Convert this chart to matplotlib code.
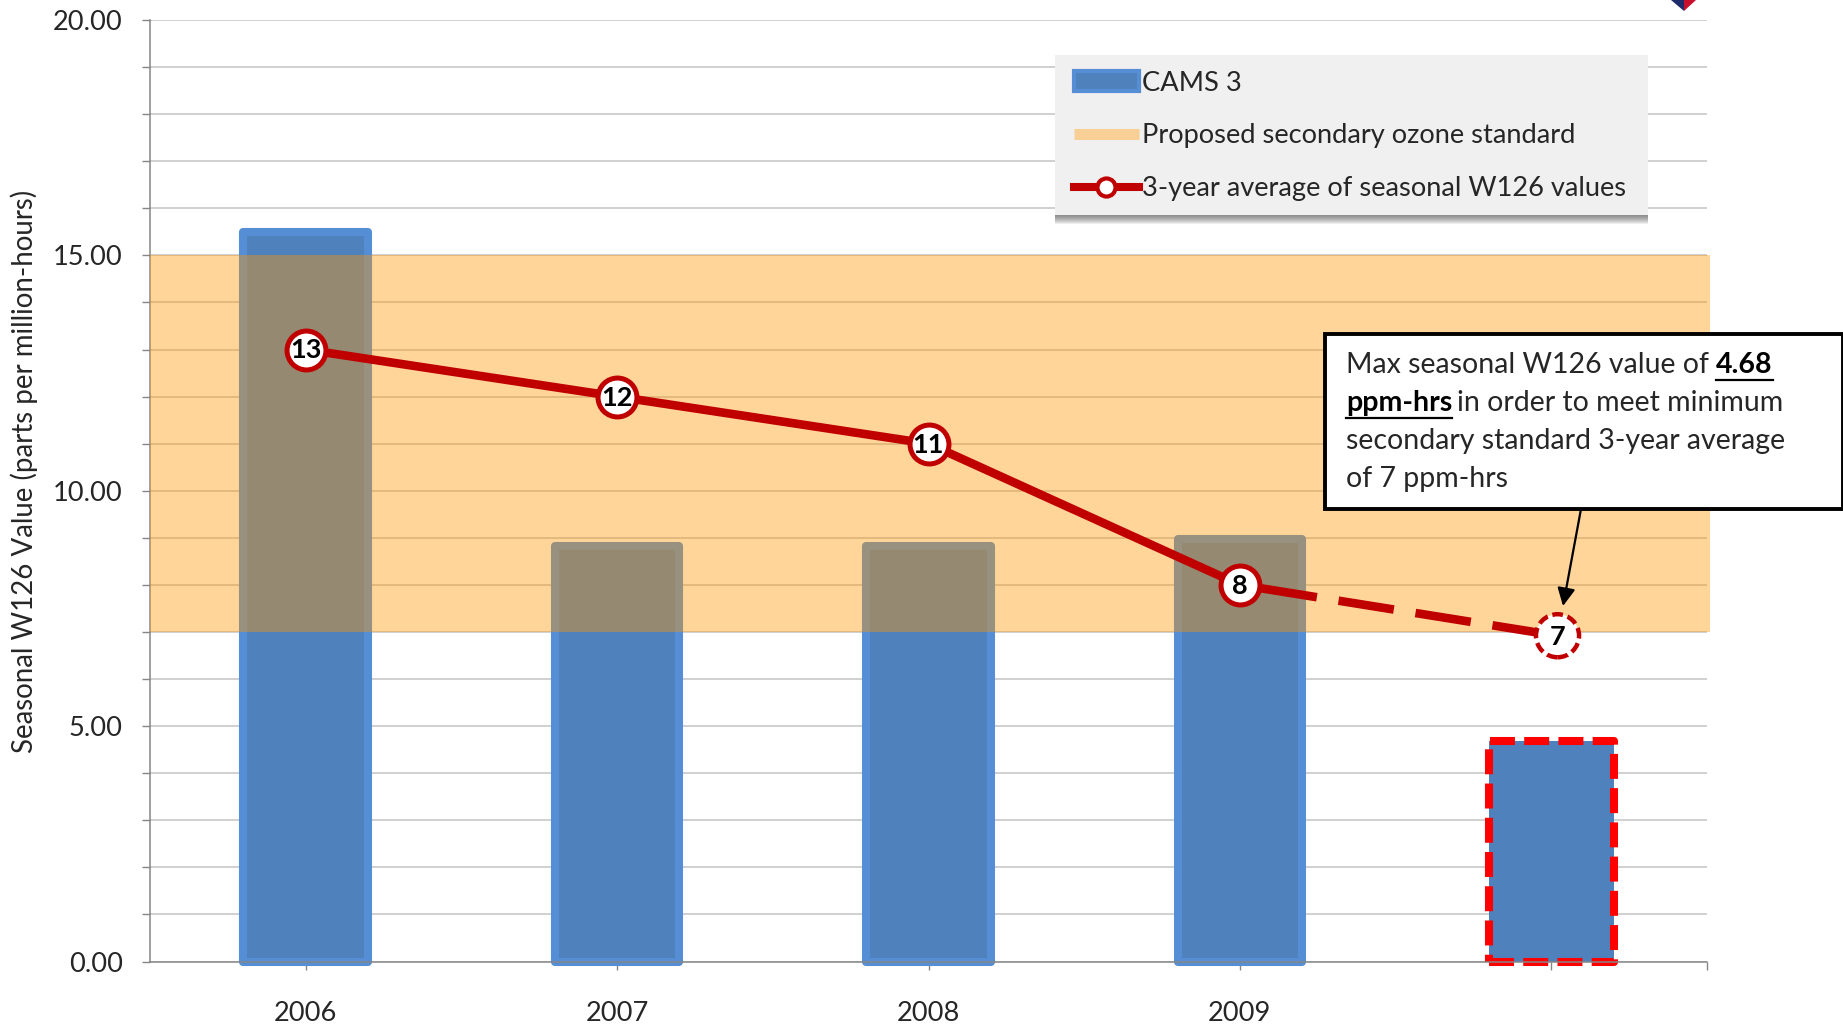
import matplotlib
matplotlib.use("Agg")
import matplotlib.pyplot as plt
import matplotlib.ticker as mticker
from matplotlib.lines import Line2D
from matplotlib.patches import FancyArrowPatch, Patch, Polygon, Rectangle

plt.rcParams["font.family"] = ["Lato", "DejaVu Sans"]

W, H = 1843, 1025

years = ["2006", "2007", "2008", "2009", ""]
cams_values = [15.49, 8.82, 8.82, 8.97, 4.68]
avg_positions = [0, 1, 2, 3]
avg_values = [13, 12, 11, 8]
proj_positions = [3, 4.02]
proj_values = [8, 6.92]
standard_low = 7
standard_high = 15
y_major = [0, 5, 10, 15, 20]
y_minor = list(range(21))

BAR_BLUE = "#4F81BD"
BAR_EDGE = "#558ED5"
BAND = "#FF9700"
LINE_RED = "#C00000"
GRID = "#C4C4C4"
AXIS = "#868686"
TEXT = "#262626"


def fx(x):
    return x / W


def fy(y):
    return 1 - y / H


fig = plt.figure(figsize=(W / 100, H / 100), dpi=100, facecolor="white")
ax = fig.add_axes([fx(150), fy(961.5), fx(1707 - 150), (961.5 - 20) / H])

x = list(range(len(years)))

# bars, last one is the projected year with the red outline
for i in x[:-1]:
    ax.bar(i, cams_values[i], width=0.4, color=BAR_BLUE, edgecolor=BAR_EDGE,
           linewidth=5.8, zorder=2, clip_on=False, joinstyle="round")
ax.bar(x[-1], cams_values[-1], width=0.4, color=BAR_BLUE, edgecolor="#FF0000",
       linewidth=5.8, linestyle=(0, (3.1, 1.15)), zorder=2, clip_on=False, joinstyle="round")

ax.axhspan(standard_low, standard_high, xmax=1.002, color=BAND, alpha=0.4, lw=0,
           zorder=3, clip_on=False)

# 3-year average
ax.plot(proj_positions, proj_values, color=LINE_RED, lw=6.2, zorder=4,
        linestyle=(6.5, (6.5, 2.55)), dash_capstyle="butt")
ax.plot(avg_positions, avg_values, color=LINE_RED, lw=6.2, zorder=5, marker="o",
        ms=28, mfc="white", mec=LINE_RED, mew=3.6)
ax.scatter(proj_positions[-1:], proj_values[-1:], s=31 ** 2, facecolor="white",
           edgecolor=LINE_RED, linewidth=3.2, linestyle=(0, (2.4, 1.1)), zorder=5)

for px_, val in zip(avg_positions + proj_positions[-1:], avg_values + proj_values[-1:]):
    ax.text(px_, val - 0.02, f"{round(val)}", ha="center", va="center", fontsize=19.5,
            fontweight="bold", color="black", zorder=6)

ax.set_xlim(-0.5, 4.5)
ax.set_ylim(0, 20)
ax.set_xticks(x)
ax.set_xticklabels(years)
ax.xaxis.set_minor_locator(mticker.FixedLocator([4.5]))
ax.set_yticks(y_major)
ax.yaxis.set_major_formatter(mticker.FormatStrFormatter("%.2f"))
ax.yaxis.set_minor_locator(mticker.FixedLocator(y_minor))
ax.tick_params(axis="y", which="both", length=5.5, width=1, color=AXIS, labelsize=19.6,
               labelcolor=TEXT, pad=14)
ax.tick_params(axis="x", which="both", length=5.5, width=1, color=AXIS, labelsize=19.6,
               labelcolor=TEXT, pad=23)
ax.grid(True, axis="y", which="both", color=GRID, lw=1.1, zorder=1)
ax.set_axisbelow(True)
for side in ["top", "right"]:
    ax.spines[side].set_visible(False)
for side in ["left", "bottom"]:
    ax.spines[side].set_color(AXIS)
    ax.spines[side].set_linewidth(1.1)

fig.text(fx(24), fy(471), "Seasonal W126 Value (parts per million-hours)", rotation=90,
         ha="center", va="center", fontsize=19.9, color=TEXT)

# legend box and soft shadow are drawn by hand so the frame size can be set
for d in range(1, 10):
    ax.add_patch(Rectangle((fx(1055), fy(215 + d)), (1648 - 1055) / W, (215 + d - 60) / H,
                           transform=fig.transFigure, facecolor="#404040", edgecolor="none",
                           alpha=0.09, zorder=8, clip_on=False))
ax.add_patch(Rectangle((fx(1055), fy(215)), (1648 - 1055) / W, (215 - 55) / H,
                       transform=fig.transFigure, facecolor="#F0F0F0", edgecolor="none",
                       zorder=9, clip_on=False))

handles = [
    Patch(facecolor=BAR_BLUE, edgecolor=BAR_EDGE, linewidth=3),
    Line2D([], [], color="#F8CF95", lw=8, solid_capstyle="butt"),
    Line2D([], [], color=LINE_RED, lw=5.8, marker="o", ms=13, mfc="white", mec=LINE_RED, mew=3),
]
labels = ["CAMS 3", "Proposed secondary ozone standard", "3-year average of seasonal W126 values"]
leg = ax.legend(handles, labels, loc="upper left", bbox_to_anchor=(fx(1058), fy(55)),
                bbox_transform=fig.transFigure, borderaxespad=0, fontsize=19.6,
                frameon=False, handlelength=2.42, handletextpad=0.1, labelspacing=1.02,
                borderpad=0.57)
leg.set_zorder(10)
for t in leg.get_texts():
    t.set_color(TEXT)

# callout box
fig.add_artist(Rectangle((fx(1325), fy(509)), (1843 - 1325) / W, (509 - 334) / H,
                         transform=fig.transFigure, facecolor="white", edgecolor="black",
                         linewidth=2.8, zorder=5, clip_on=False))
text_x = 1346
line_y = [365, 403, 441, 479]
note_size = 20.5
renderer = fig.canvas.get_renderer()


def note(x_, y_, s, bold=False, underline=False):
    t = fig.text(fx(x_), fy(y_), s, fontsize=note_size, color=TEXT if not bold else "black",
                 fontweight="bold" if bold else "normal", ha="left", va="center", zorder=6)
    box = t.get_window_extent(renderer)
    if underline:
        yy = fy(y_ + 15)
        fig.add_artist(Line2D([box.x0 / W, box.x1 / W], [yy, yy], color="black", lw=1.6,
                              transform=fig.transFigure, zorder=6))
    return box.x1


end = note(text_x, line_y[0], "Max seasonal W126 value of")
note(end + 7, line_y[0], "4.68", bold=True, underline=True)
end = note(text_x, line_y[1], "ppm-hrs", bold=True, underline=True)
note(end + 5, line_y[1], "in order to meet minimum")
note(text_x, line_y[2], "secondary standard 3-year average")
note(text_x, line_y[3], "of 7 ppm-hrs")

fig.add_artist(FancyArrowPatch((fx(1581), fy(509)), (fx(1563), fy(606)),
                               transform=fig.transFigure, arrowstyle="-|>", mutation_scale=27,
                               color="black", lw=1.6, shrinkA=0, shrinkB=0, zorder=6))

# corner of the logo cut off at the top edge
fig.add_artist(Polygon([(fx(1671), fy(0)), (fx(1684), fy(0)), (fx(1684), fy(11))],
                       transform=fig.transFigure, facecolor="#1F2A6B", edgecolor="none"))
fig.add_artist(Polygon([(fx(1684), fy(0)), (fx(1696), fy(0)), (fx(1684), fy(11))],
                       transform=fig.transFigure, facecolor="#C8102E", edgecolor="none"))

fig.savefig("out.png", dpi=100)
